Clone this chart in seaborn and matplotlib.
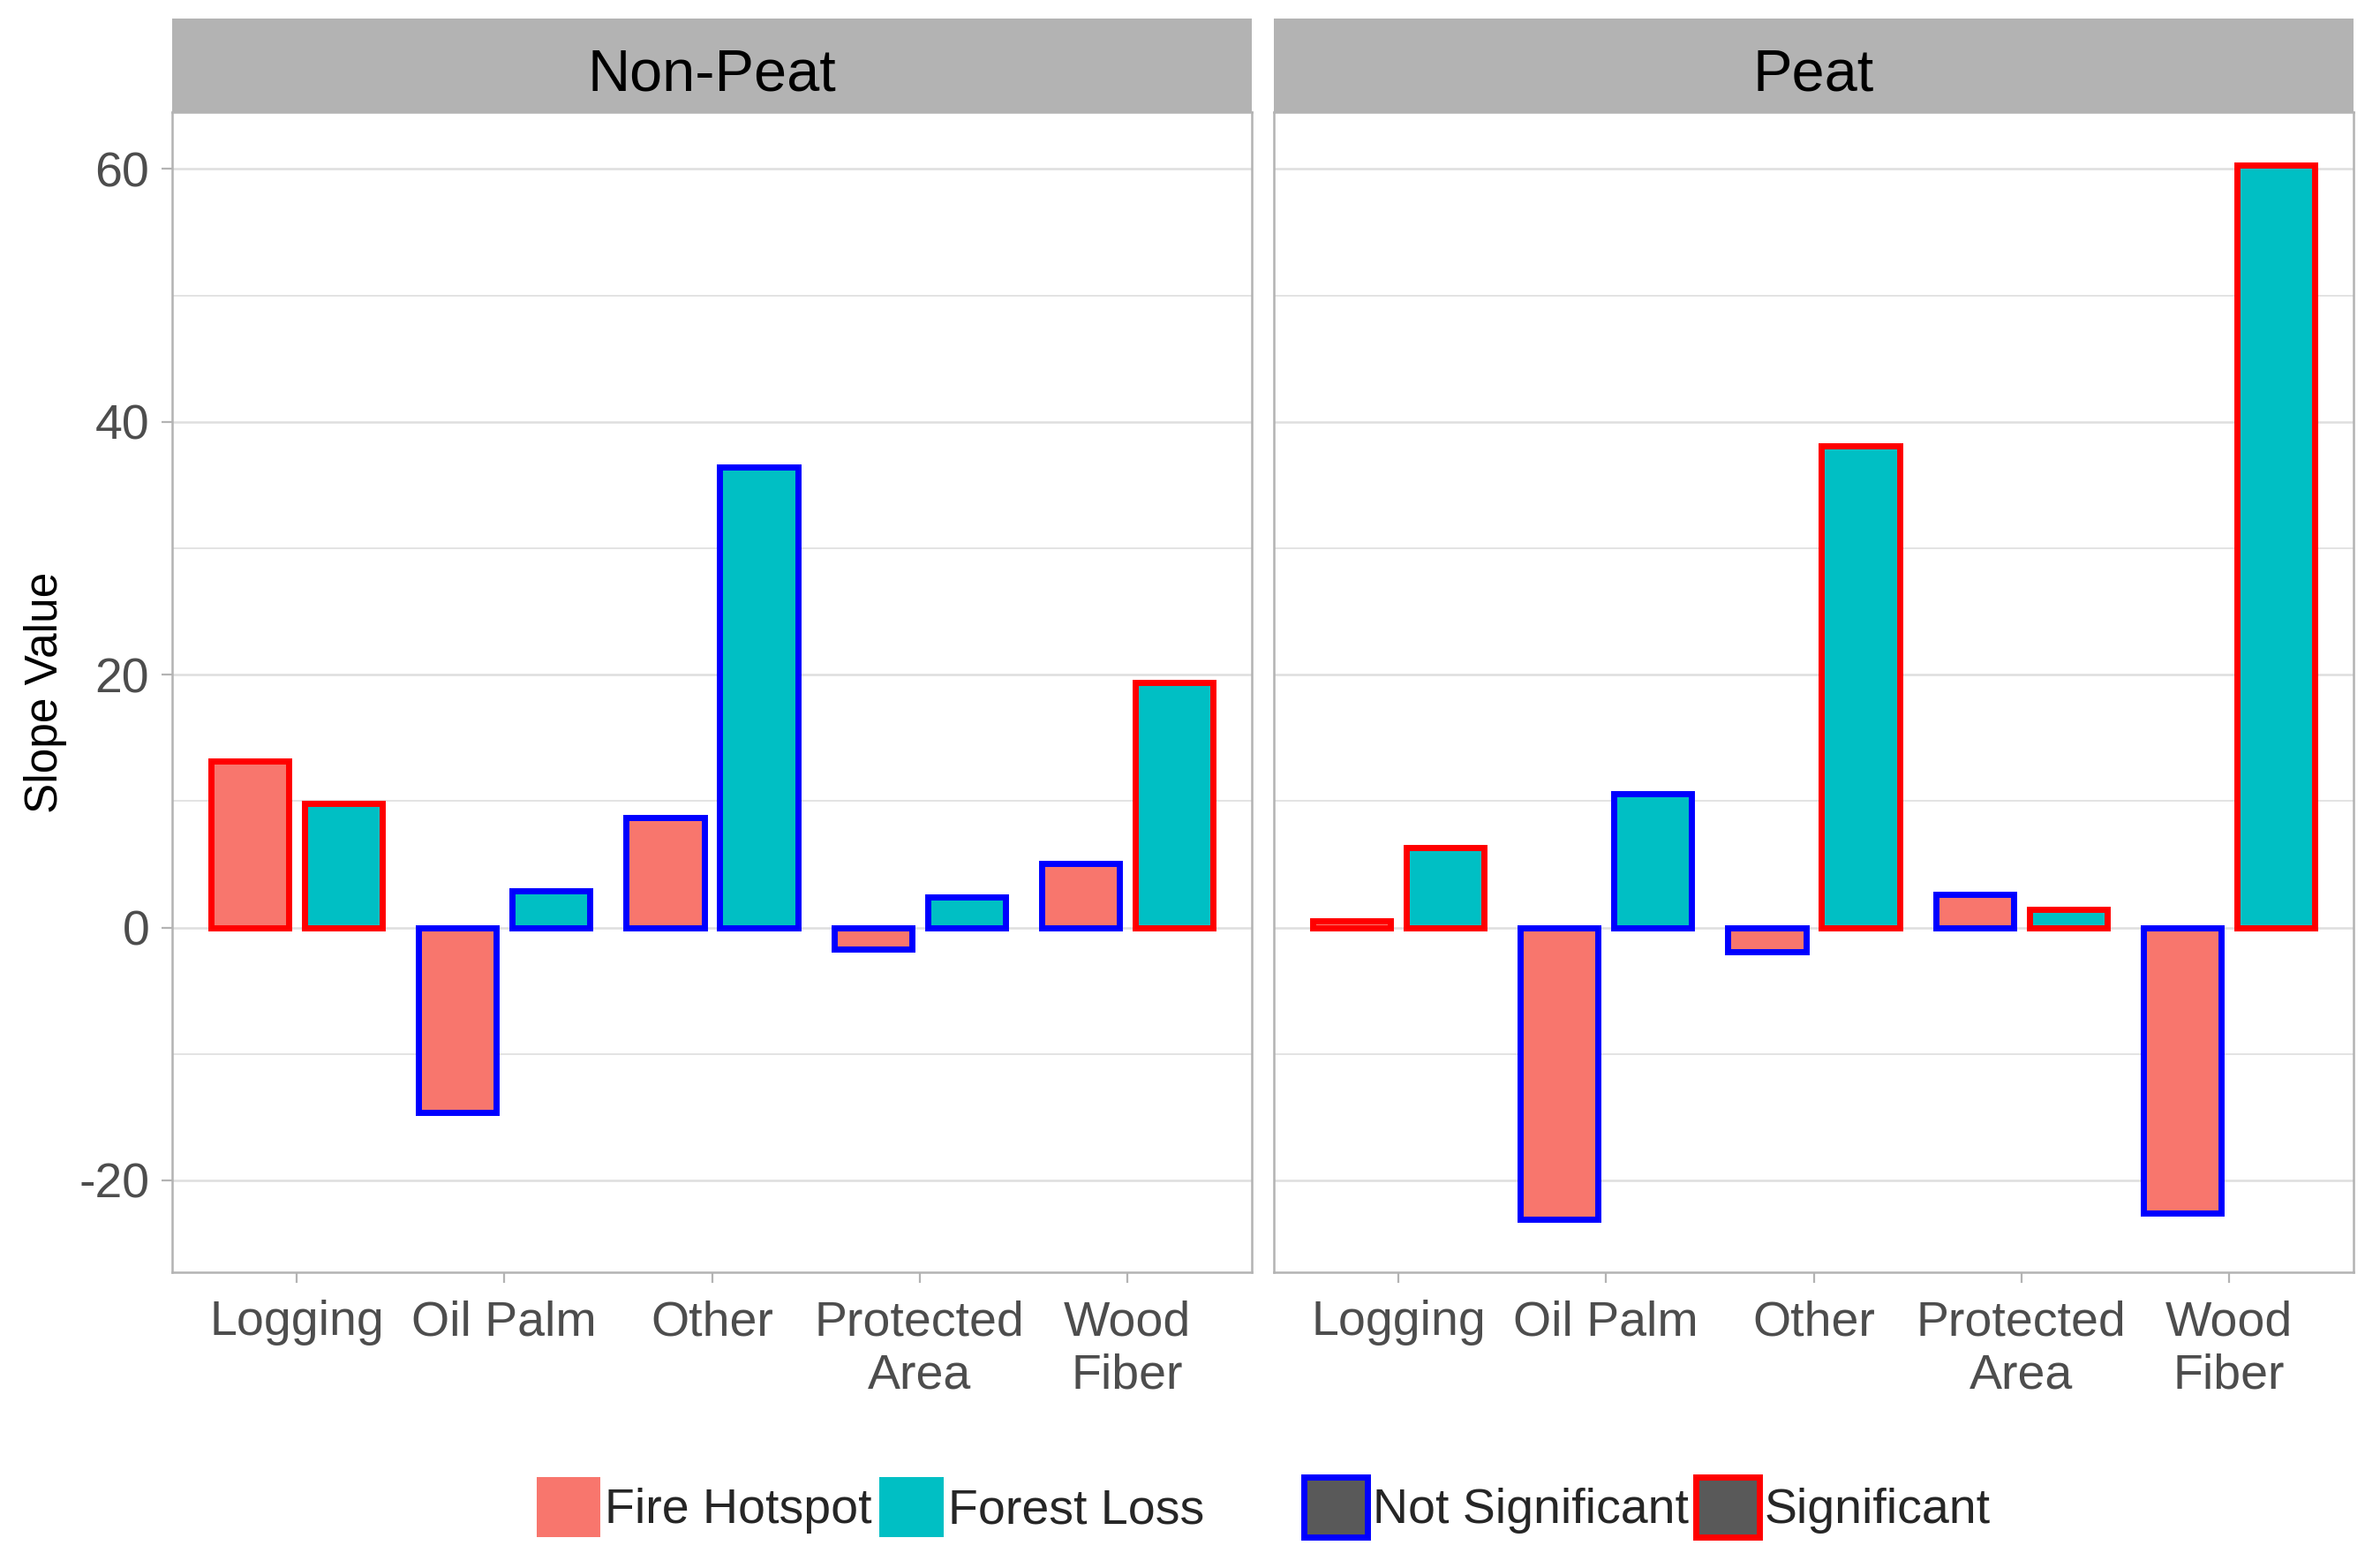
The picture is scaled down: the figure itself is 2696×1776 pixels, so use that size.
import numpy as np
import pandas as pd
import matplotlib
matplotlib.use("Agg")
import matplotlib.pyplot as plt
from matplotlib.patches import Patch
import seaborn as sns

soils = ["Non-Peat", "Peat"]
uses = ["Logging", "Oil Palm", "Other", "Protected\nArea", "Wood\nFiber"]
metrics = ["Fire Hotspot", "Forest Loss"]
sig_labels = ["Not Significant", "Significant"]

nonpeat_fire = [13.2, -14.6, 8.7, -1.7, 5.1]
nonpeat_forest = [9.8, 2.9, 36.4, 2.4, 19.4]
peat_fire = [0.5, -23.1, -1.9, 2.6, -22.6]
peat_forest = [6.3, 10.6, 38.1, 1.4, 60.3]

nonpeat_fire_sig = [True, False, False, False, False]
nonpeat_forest_sig = [True, False, False, False, True]
peat_fire_sig = [True, False, False, False, False]
peat_forest_sig = [True, False, True, True, True]

FIRE = "#F8766D"
FOREST = "#00BFC4"
NOT_SIG = "#0000FF"
SIG = "#FF0000"
STRIP = "#B3B3B3"
GRID = "#DEDEDE"


def build_frame() -> pd.DataFrame:
    rows = []
    groups = [
        ("Non-Peat", nonpeat_fire, nonpeat_forest, nonpeat_fire_sig, nonpeat_forest_sig),
        ("Peat", peat_fire, peat_forest, peat_fire_sig, peat_forest_sig),
    ]
    for soil, fire, forest, fire_sig, forest_sig in groups:
        for i, use in enumerate(uses):
            rows.append({"soil": soil, "use": use, "metric": metrics[0],
                         "slope": fire[i], "significant": fire_sig[i]})
            rows.append({"soil": soil, "use": use, "metric": metrics[1],
                         "slope": forest[i], "significant": forest_sig[i]})
    return pd.DataFrame(rows)


df = build_frame()

sns.set_style("white")
plt.rcParams["font.family"] = ["Liberation Sans", "DejaVu Sans"]
plt.rcParams["axes.unicode_minus"] = False

W, H = 2696, 1776
fig = plt.figure(figsize=(W / 200, H / 200), dpi=200)

panel_lefts = [195, 1443]
panel_w = 1223
panel_top, panel_bottom = 127.4, 1441
strip_top = 21.2

lo = min(df["slope"].min(), 0)
hi = max(df["slope"].max(), 0)
pad = 0.05 * (hi - lo)

for k, soil in enumerate(soils):
    x0 = panel_lefts[k] / W
    ax = fig.add_axes([x0, 1 - panel_bottom / H, panel_w / W, (panel_bottom - panel_top) / H])
    sub = df[df["soil"] == soil]
    sns.barplot(
        data=sub, x="use", y="slope", hue="metric",
        order=uses, hue_order=metrics, palette=[FIRE, FOREST],
        saturation=1, width=0.9, gap=1 / 6, errorbar=None, legend=False, ax=ax,
    )
    for container, metric in zip(ax.containers, metrics):
        for bar, use in zip(container, uses):
            sig = sub.loc[(sub["use"] == use) & (sub["metric"] == metric), "significant"].iloc[0]
            bar.set_edgecolor(SIG if sig else NOT_SIG)
            bar.set_linewidth(2.5)
            bar.set_joinstyle("miter")

    ax.set_xlim(-0.6, len(uses) - 0.4)
    ax.set_ylim(lo - pad, hi + pad)
    ax.set_yticks([-20, 0, 20, 40, 60])
    ax.set_yticks([-10, 10, 30, 50], minor=True)
    ax.set_axisbelow(True)
    ax.grid(True, which="major", axis="y", color=GRID, linewidth=0.9)
    ax.grid(True, which="minor", axis="y", color=GRID, linewidth=0.6)
    ax.grid(False, axis="x")
    ax.set_xlabel("")
    ax.set_ylabel("")
    for spine in ax.spines.values():
        spine.set_color(STRIP)
        spine.set_linewidth(0.9)
    ax.tick_params(axis="both", which="major", labelsize=20, labelcolor="#4D4D4D",
                   color=STRIP, length=4.3, width=0.8, bottom=True, left=True)
    ax.tick_params(axis="x", pad=7)
    ax.tick_params(axis="y", pad=5)
    ax.tick_params(which="minor", length=0)
    for lbl in ax.get_xticklabels():
        lbl.set_linespacing(1.2)
    if k > 0:
        ax.tick_params(axis="y", left=False, labelleft=False)

    sax = fig.add_axes([x0, 1 - panel_top / H, panel_w / W, (panel_top - strip_top) / H])
    sax.set_facecolor(STRIP)
    sax.set_xticks([])
    sax.set_yticks([])
    for spine in sax.spines.values():
        spine.set_visible(False)
    sax.text(0.5, 0.23, soil, ha="center", va="baseline", fontsize=24, color="black",
             transform=sax.transAxes)

fig.text(52 / W, 1 - 784 / H, "Slope Value", rotation=90, ha="center", va="center",
         fontsize=18.5, color="black")

legend_kw = dict(loc="center", ncol=2, frameon=False, fontsize=20, handlelength=1.3,
                 handleheight=1.51, handletextpad=0.1, columnspacing=0.15,
                 borderpad=0, borderaxespad=0)
fill_handles = [Patch(facecolor=FIRE, edgecolor="none"), Patch(facecolor=FOREST, edgecolor="none")]
fig.legend(handles=fill_handles, labels=metrics, bbox_to_anchor=(986 / W, 1 - 1707 / H), **legend_kw)
edge_handles = [Patch(facecolor="#595959", edgecolor=NOT_SIG, linewidth=2.5),
                Patch(facecolor="#595959", edgecolor=SIG, linewidth=2.5)]
fig.legend(handles=edge_handles, labels=sig_labels, bbox_to_anchor=(1866 / W, 1 - 1707 / H), **legend_kw)

fig.savefig("out.png", dpi=200)
